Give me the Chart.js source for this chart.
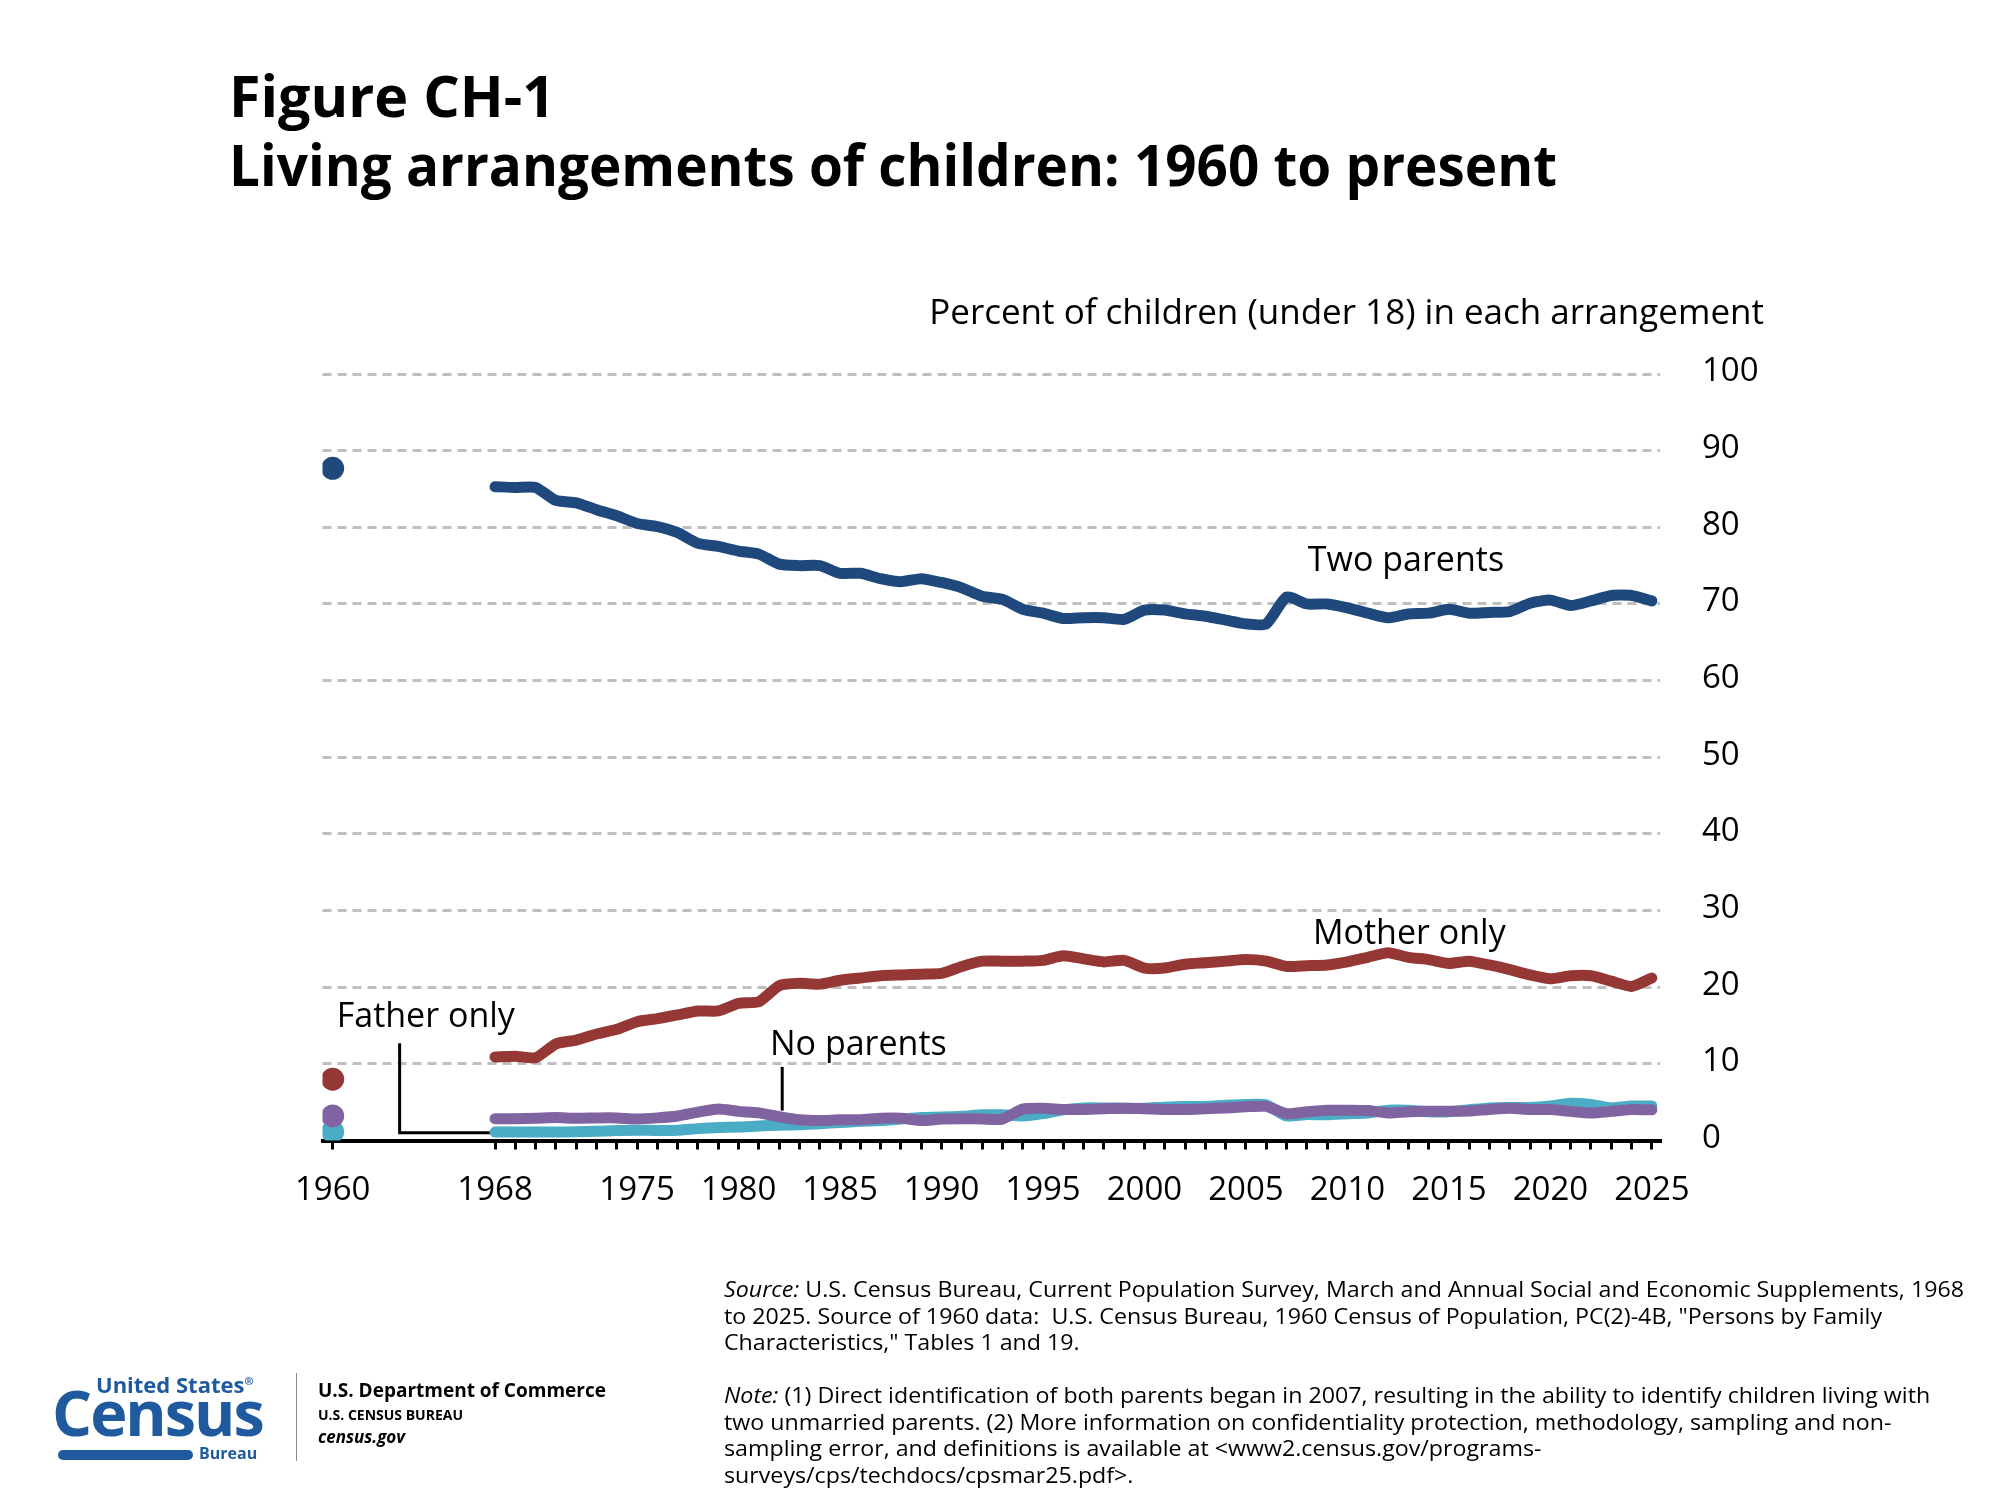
<!DOCTYPE html>
<html>
<head>
<meta charset="utf-8">
<title>Figure CH-1</title>
<script src="https://cdn.jsdelivr.net/npm/chart.js@4.4.1/dist/chart.umd.min.js"></script>
<style>
  body { margin: 0; background: #fff; font-family: "Open Sans", sans-serif; color: #000; }
  #page { position: relative; width: 2000px; height: 1500px; overflow: hidden; }
  #my-chart { position: absolute; left: 0; top: 0; }
  .abs { position: absolute; white-space: nowrap; line-height: 1; }
  .title { left: 229px; font-size: 58px; font-weight: bold; transform-origin: left top; }
  #caption { right: 236px; top: 293px; font-size: 35px; }
  #notes { left: 724px; top: 1275px; font-size: 22px; line-height: 26.5px; transform-origin: left top; }
  .blue { color: #205a9e; }
  #bar { position: absolute; left: 58px; top: 1450px; width: 135px; height: 10px; background: #205a9e; border-radius: 5px; }
  #sep { position: absolute; left: 296px; top: 1373px; width: 1px; height: 88px; background: #8c8c8c; }
</style>
</head>
<body>
<div id="page">
  <canvas id="my-chart" width="2000" height="1500"></canvas>

  <div class="abs title" id="title1" style="top:66px">Figure CH-1</div>
  <div class="abs title" id="title2" style="top:135px">Living arrangements of children: 1960 to present</div>
  <div class="abs" id="caption">Percent of children (under 18) in each arrangement</div>

  <div class="abs" id="notes"><span id="noteLine1"><i>Source:</i> U.S. Census Bureau, Current Population Survey, March and Annual Social and Economic Supplements, 1968</span><br>to 2025. Source of 1960 data:&nbsp; U.S. Census Bureau, 1960 Census of Population, PC(2)-4B, "Persons by Family<br>Characteristics," Tables 1 and 19.<br><br><i>Note:</i> (1) Direct identification of both parents began in 2007, resulting in the ability to identify children living with<br>two unmarried parents. (2) More information on confidentiality protection, methodology, sampling and non-<br>sampling error, and definitions is available at &lt;www2.census.gov/programs-<br>surveys/cps/techdocs/cpsmar25.pdf&gt;.</div>

  <div class="abs blue" style="left:96px; top:1373px; font-size:22px; font-weight:bold;">United States<sup style="font-size:11px">®</sup></div>
  <div class="abs blue" style="left:52px; top:1380px; font-size:63px; font-weight:bold; letter-spacing:-2px;">Census</div>
  <div id="bar"></div>
  <div class="abs blue" style="left:199px; top:1445px; font-size:16px; font-weight:bold;">Bureau</div>
  <div id="sep"></div>
  <div class="abs" style="left:318px; top:1381px; font-size:19px; font-weight:bold;">U.S. Department of Commerce</div>
  <div class="abs" style="left:318px; top:1408px; font-size:14px; font-weight:bold;">U.S. CENSUS BUREAU</div>
  <div class="abs" style="left:318px; top:1428px; font-size:17px; font-weight:bold; font-style:italic;">census.gov</div>
</div>

<script>
'use strict';

//*********** Data (percent of children under 18) ***********
let years = [
  1968, 1969, 1970, 1971, 1972, 1973, 1974, 1975, 1976, 1977,
  1978, 1979, 1980, 1981, 1982, 1983, 1984, 1985, 1986, 1987,
  1988, 1989, 1990, 1991, 1992, 1993, 1994, 1995, 1996, 1997,
  1998, 1999, 2000, 2001, 2002, 2003, 2004, 2005, 2006, 2007,
  2008, 2009, 2010, 2011, 2012, 2013, 2014, 2015, 2016, 2017,
  2018, 2019, 2020, 2021, 2022, 2023, 2024, 2025
];
let twoParents = [
  85.3, 85.2, 85.2, 83.5, 83.2, 82.3, 81.5, 80.5, 80.1, 79.3,
  77.9, 77.5, 76.9, 76.5, 75.2, 75.0, 75.0, 74.0, 74.0, 73.3,
  72.9, 73.3, 72.8, 72.1, 71.0, 70.6, 69.3, 68.8, 68.1, 68.2,
  68.2, 68.0, 69.2, 69.2, 68.7, 68.4, 67.9, 67.4, 67.4, 70.9,
  70.0, 70.0, 69.5, 68.8, 68.2, 68.7, 68.8, 69.3, 68.8, 68.9,
  69.0, 70.1, 70.5, 69.8, 70.4, 71.1, 71.1, 70.4
];
let motherOnly = [
  10.9, 11.0, 10.8, 12.6, 13.1, 13.9, 14.5, 15.5, 15.9, 16.4,
  16.9, 16.9, 17.9, 18.1, 20.2, 20.5, 20.4, 20.9, 21.2, 21.5,
  21.6, 21.7, 21.8, 22.7, 23.4, 23.4, 23.4, 23.5, 24.1, 23.7,
  23.3, 23.5, 22.5, 22.5, 23.0, 23.2, 23.4, 23.6, 23.4, 22.7,
  22.8, 22.9, 23.3, 23.9, 24.5, 23.9, 23.6, 23.1, 23.4, 22.9,
  22.3, 21.6, 21.1, 21.5, 21.5, 20.8, 20.1, 21.2
];
let fatherOnly = [
  1.1, 1.1, 1.1, 1.1, 1.15, 1.2, 1.3, 1.35, 1.3, 1.35,
  1.55, 1.7, 1.75, 1.9, 2.0, 2.05, 2.2, 2.35, 2.5, 2.6,
  2.8, 3.0, 3.05, 3.15, 3.35, 3.35, 3.2, 3.5, 4.0, 4.25,
  4.25, 4.2, 4.2, 4.35, 4.45, 4.45, 4.6, 4.7, 4.65, 3.2,
  3.4, 3.35, 3.5, 3.6, 3.95, 3.95, 3.75, 3.75, 4.0, 4.25,
  4.3, 4.3, 4.5, 4.85, 4.7, 4.25, 4.5, 4.5
];
let noParents = [
  2.85, 2.85, 2.9, 3.0, 2.9, 2.95, 2.95, 2.8, 2.95, 3.2,
  3.7, 4.1, 3.8, 3.6, 3.1, 2.7, 2.6, 2.7, 2.7, 2.9,
  2.9, 2.6, 2.8, 2.85, 2.8, 2.8, 4.1, 4.2, 4.05, 4.05,
  4.15, 4.2, 4.15, 4.05, 4.05, 4.15, 4.25, 4.4, 4.45, 3.5,
  3.75, 3.95, 3.95, 3.9, 3.6, 3.75, 3.8, 3.8, 3.85, 4.05,
  4.2, 4.05, 4.05, 3.8, 3.6, 3.8, 4.05, 4.0
];

// 1960 census values, shown as single dots
let censusYear = 1960;
let census1960 = { twoParents: 87.7, motherOnly: 8.0, fatherOnly: 1.15, noParents: 3.2 };

// tick marks on the year axis and the ones that carry a label
let tickYears = [1960].concat(years);
let labelYears = [1960, 1968, 1975, 1980, 1985, 1990, 1995, 2000, 2005, 2010, 2015, 2020, 2025];

//*********** Styles ***********
const FONT = '"Open Sans", sans-serif';
const BLUE = '#1f497d';
const RED = '#953735';
const PURPLE = '#8064a2';
const TEAL = '#4bacc6';

// series labels and leader lines, placed in data space (year, percent)
const seriesLabels = [
  { text: 'Two parents', year: 2008.05, value: 74.25 },
  { text: 'Mother only', year: 2008.3, value: 25.65 },
  { text: 'Father only', year: 1960.2, value: 14.8 },
  { text: 'No parents', year: 1981.55, value: 11.15 }
];
const leaderLines = [
  [[1963.3, 12.7], [1963.3, 1.0], [1968.2, 1.0]],
  [[1982.15, 9.6], [1982.15, 3.9]]
];

function toPoints(values) {
  return years.map((yr, i) => ({ x: yr, y: values[i] }));
}

function lineSet(name, values, color) {
  return {
    label: name,
    data: toPoints(values),
    borderColor: color,
    backgroundColor: color,
    borderWidth: 11,
    pointRadius: 0,
    tension: 0.2,
    borderCapStyle: 'round',
    borderJoinStyle: 'round'
  };
}

function dotSet(name, value, color) {
  return {
    label: name + ' 1960',
    data: [{ x: censusYear, y: value }],
    showLine: false,
    pointRadius: 11.5,
    pointBorderWidth: 0,
    pointBackgroundColor: color
  };
}

// draws the leader lines under the series and the labels above them
const labelPlugin = {
  id: 'seriesLabels',
  beforeDatasetsDraw(chart) {
    let ctx = chart.ctx;
    let x = chart.scales.x;
    let y = chart.scales.y;
    ctx.save();
    ctx.strokeStyle = '#000';
    ctx.lineWidth = 3;
    leaderLines.forEach(path => {
      ctx.beginPath();
      path.forEach((p, i) => {
        let px = x.getPixelForValue(p[0]);
        let py = y.getPixelForValue(p[1]);
        if (i === 0) ctx.moveTo(px, py); else ctx.lineTo(px, py);
      });
      ctx.stroke();
    });
    ctx.restore();
  },
  afterDatasetsDraw(chart) {
    let ctx = chart.ctx;
    let x = chart.scales.x;
    let y = chart.scales.y;
    ctx.save();
    ctx.fillStyle = '#000';
    ctx.font = '34px ' + FONT;
    ctx.textAlign = 'left';
    ctx.textBaseline = 'alphabetic';
    seriesLabels.forEach(l => {
      ctx.fillText(l.text, x.getPixelForValue(l.year), y.getPixelForValue(l.value));
    });
    ctx.restore();
  }
};

function renderChart() {
  let canvas = document.getElementById('my-chart');
  let chartObj = {
    type: 'line',
    data: {
      datasets: [
        lineSet('Two parents', twoParents, BLUE),
        lineSet('Mother only', motherOnly, RED),
        lineSet('No parents', noParents, PURPLE),
        lineSet('Father only', fatherOnly, TEAL),
        dotSet('Two parents', census1960.twoParents, BLUE),
        dotSet('Mother only', census1960.motherOnly, RED),
        dotSet('No parents', census1960.noParents, PURPLE),
        dotSet('Father only', census1960.fatherOnly, TEAL)
      ]
    },
    options: {
      responsive: false,
      animation: false,
      layout: { padding: { left: 322.5, top: 374, right: 0, bottom: 0 } },
      plugins: {
        legend: { display: false },
        tooltip: { enabled: false }
      },
      scales: {
        x: {
          type: 'linear',
          min: 1959.5,
          max: 2025.4,
          afterBuildTicks: axis => { axis.ticks = tickYears.map(v => ({ value: v })); },
          afterFit: axis => { axis.height = 359.5; },
          ticks: {
            autoSkip: false,
            maxRotation: 0,
            padding: 21,
            color: '#000',
            font: { family: FONT, size: 33 },
            callback: v => labelYears.includes(v) ? String(v) : ''
          },
          grid: { drawOnChartArea: false, drawTicks: true, tickLength: 9, color: '#000', lineWidth: 3 },
          border: { display: true, color: '#000', width: 4 }
        },
        y: {
          position: 'right',
          min: 0,
          max: 100,
          afterFit: axis => { axis.width = 340; },
          ticks: {
            stepSize: 10,
            padding: 42,
            labelOffset: -2,
            color: '#000',
            font: { family: FONT, size: 33 }
          },
          grid: {
            drawTicks: false,
            lineWidth: 3,
            color: c => c.tick && c.tick.value === 0 ? 'rgba(0,0,0,0)' : '#bfbfbf'
          },
          border: { display: false, dash: [9, 6] }
        }
      }
    },
    plugins: [labelPlugin]
  };
  new Chart(canvas, chartObj);
}

// squeeze a text block so that one of its lines takes the width it has in the figure
function fitWidth(id, measureId, target) {
  let el = document.getElementById(id);
  let ref = document.getElementById(measureId);
  el.style.transform = 'scaleX(' + (target / ref.getBoundingClientRect().width) + ')';
}

renderChart();
fitWidth('title1', 'title1', 326);
fitWidth('title2', 'title2', 1328);
fitWidth('notes', 'noteLine1', 1240);
</script>
</body>
</html>
